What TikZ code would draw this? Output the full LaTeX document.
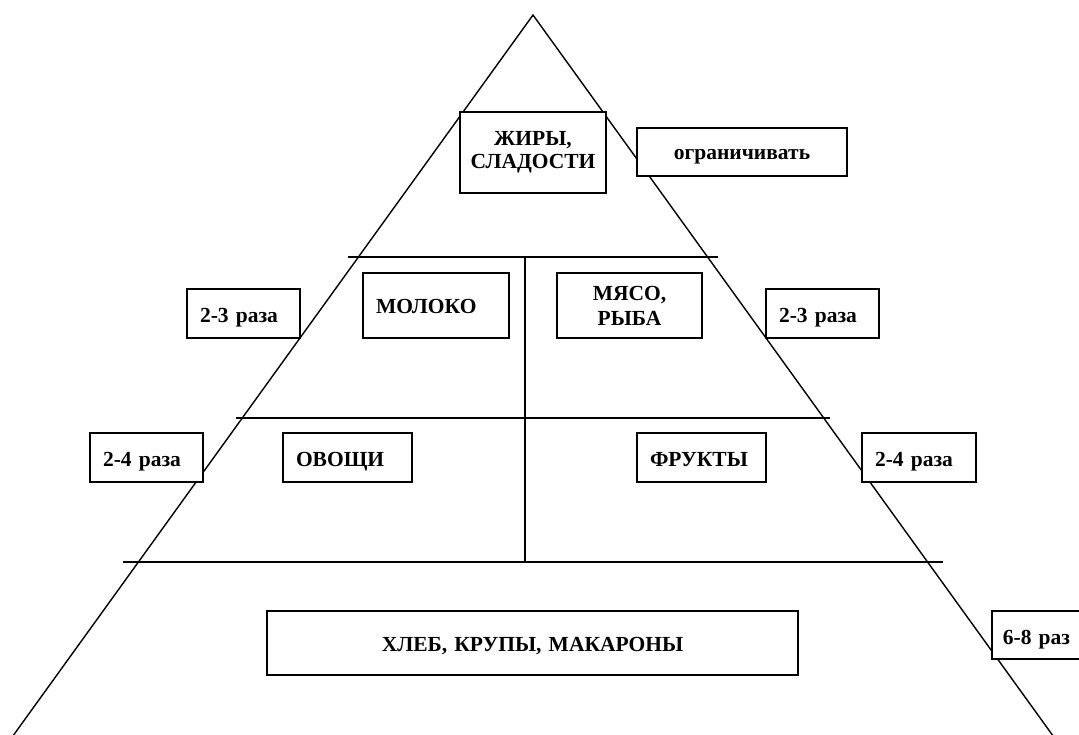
\documentclass[tikz,border=0pt]{standalone}
\usepackage{fontspec}
\setmainfont{Liberation Serif}
\begin{document}
\begin{tikzpicture}[x=1pt,y=-1pt,
 box/.style={draw, fill=white, line width=1.8pt, font=\bfseries\fontsize{21.5}{22}\selectfont, inner sep=0pt, align=center},
 lbox/.style={box, align=left, inner xsep=13pt, inner ysep=0pt, text height=18pt, text depth=0pt},
 side/.style={line width=1.4pt},
 band/.style={line width=2.2pt}]
\useasboundingbox (0,0) rectangle (1079,734);
\clip (0,0) rectangle (1079,734);
% triangle
\coordinate (apex) at (533,15);
\coordinate (bl) at (10,740);
\coordinate (br) at (1056,740);
\draw[side] (bl) -- (apex) -- (br);
% bands
\coordinate (b1l) at (348,257); \coordinate (b1r) at (718,257);
\coordinate (b2l) at (236,418); \coordinate (b2r) at (830,418);
\coordinate (b3l) at (123,562); \coordinate (b3r) at (943,562);
\coordinate (vt) at (525,257); \coordinate (vb) at (525,562);
\draw[band] (b1l) -- (b1r);
\draw[band] (b2l) -- (b2r);
\draw[band] (b3l) -- (b3r);
\draw[band] (vt) -- (vb);
% boxes
\node[box, minimum width=146pt, minimum height=81pt] (zhiry) at (533,152.5) {ЖИРЫ,\\[1pt]СЛАДОСТИ};
\node[lbox, align=center, inner xsep=0pt, text width=210pt, minimum height=48pt, text height=15pt] (ogran) at (742,152) {ограничивать};
\node[lbox, text width=87pt, minimum height=49pt] (l23) at (243.5,313.5) {2-3 раза};
\node[lbox, text width=120pt, minimum height=65pt, text height=16pt] (moloko) at (436,305.5) {МОЛОКО};
\node[box, minimum width=145pt, minimum height=65pt] (myaso) at (629.5,305.5) {МЯСО,\\[3pt]РЫБА};
\node[lbox, text width=87pt, minimum height=49pt] (r23) at (822.5,313.5) {2-3 раза};
\node[lbox, text width=87pt, minimum height=49pt] (l24) at (146.5,457.5) {2-4 раза};
\node[lbox, text width=103pt, minimum height=49pt] (ovoshi) at (347.5,457.5) {ОВОЩИ};
\node[lbox, text width=103pt, minimum height=49pt] (frukty) at (701.5,457.5) {ФРУКТЫ};
\node[lbox, text width=88pt, minimum height=49pt] (r24) at (919,457.5) {2-4 раза};
\node[lbox, align=center, inner xsep=0pt, text width=531pt, minimum height=64pt, text height=17pt] (khleb) at (532.5,643) {ХЛЕБ, КРУПЫ, МАКАРОНЫ};
\node[lbox, inner xsep=11pt, text width=95pt, minimum height=48pt, anchor=west] (six8) at (991,635) {6-8 раз};
\end{tikzpicture}
\end{document}
